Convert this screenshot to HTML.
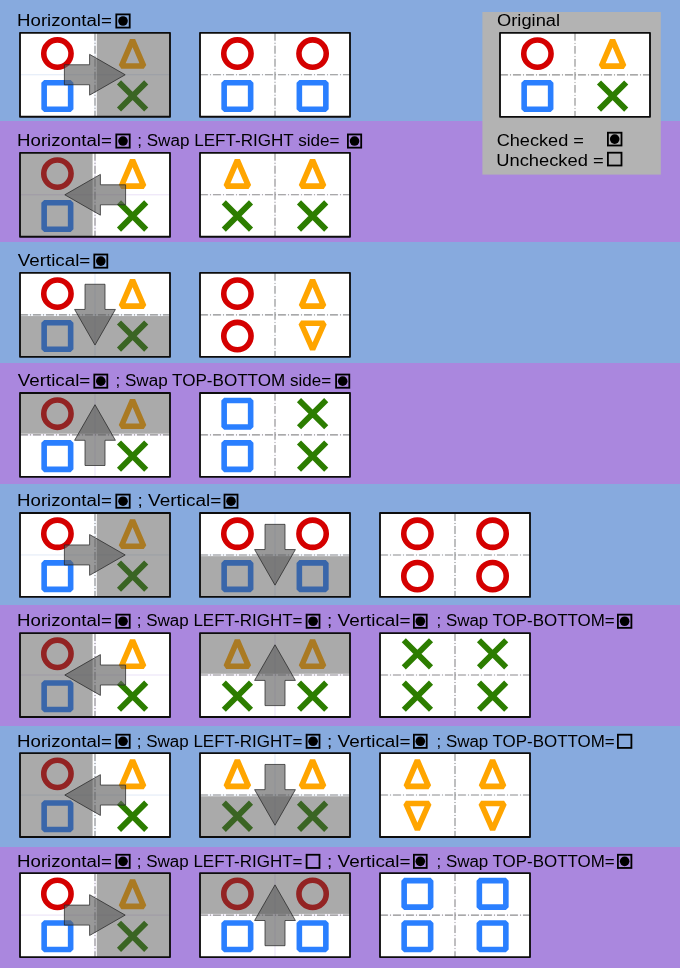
<!DOCTYPE html><html><head><meta charset="utf-8"><style>html,body{margin:0;padding:0;width:680px;height:968px;overflow:hidden;background:#87aade}svg{display:block;will-change:transform}</style></head><body><svg width="680" height="968" viewBox="0 0 680 968" font-family="&quot;Liberation Sans&quot;, sans-serif" font-size="15.8" fill="#000">
<rect x="0" y="0" width="680" height="121" fill="#87aade"/>
<rect x="0" y="121" width="680" height="121" fill="#aa87de"/>
<rect x="0" y="242" width="680" height="121" fill="#87aade"/>
<rect x="0" y="363" width="680" height="121" fill="#aa87de"/>
<rect x="0" y="484" width="680" height="121" fill="#87aade"/>
<rect x="0" y="605" width="680" height="121" fill="#aa87de"/>
<rect x="0" y="726" width="680" height="121" fill="#87aade"/>
<rect x="0" y="847" width="680" height="121" fill="#aa87de"/>
<rect x="20" y="32.8" width="150" height="83.9" fill="#fff"/>
<path d="M20,74.75H170M95.00,32.8V116.7" stroke="#87aade" stroke-opacity="0.25" stroke-width="1"/>
<circle cx="57.40" cy="53.55" r="13.65" fill="none" stroke="#d40000" stroke-width="5.6"/>
<polygon points="132.55,40.05 121.35,66.05 143.75,66.05" fill="none" stroke="#ffa500" stroke-width="5.6" stroke-linejoin="bevel"/>
<rect x="44.15" y="82.70" width="26.50" height="26.50" fill="none" stroke="#2a7fff" stroke-width="5.6" stroke-linejoin="bevel"/>
<path d="M119.00,82.35L146.20,109.55M119.00,109.55L146.20,82.35" stroke="#2c7d00" stroke-width="5.8" fill="none"/>
<path d="M95.00,32.8V116.7" stroke="#8f8f8f" stroke-width="1.1" stroke-dasharray="7.9 2.1 0.9 2.1"/>
<rect x="96.80" y="32.8" width="73.20" height="83.9" fill="#4b4b4b" fill-opacity="0.47"/>
<polygon points="64.40,64.75 89.60,64.75 89.60,54.35 125.20,74.75 89.60,95.15 89.60,84.75 64.40,84.75" fill="#5e5e5e" fill-opacity="0.63" stroke="#222" stroke-opacity="0.8" stroke-width="0.9"/>
<rect x="20" y="32.8" width="150" height="83.9" fill="none" stroke="#0d0d0d" stroke-width="1.85" stroke-linejoin="round"/>
<rect x="200" y="32.8" width="150" height="83.9" fill="#fff"/>
<path d="M200,74.75H350M275.00,32.8V116.7" stroke="#87aade" stroke-opacity="0.1" stroke-width="1"/>
<circle cx="237.40" cy="53.55" r="13.65" fill="none" stroke="#d40000" stroke-width="5.6"/>
<circle cx="312.60" cy="53.55" r="13.65" fill="none" stroke="#d40000" stroke-width="5.6"/>
<rect x="224.15" y="82.70" width="26.50" height="26.50" fill="none" stroke="#2a7fff" stroke-width="5.6" stroke-linejoin="bevel"/>
<rect x="299.35" y="82.70" width="26.50" height="26.50" fill="none" stroke="#2a7fff" stroke-width="5.6" stroke-linejoin="bevel"/>
<path d="M200,74.75H350" stroke="#8f8f8f" stroke-width="1.1" stroke-dasharray="7.9 2.1 0.9 2.1"/>
<path d="M275.00,32.8V116.7" stroke="#8f8f8f" stroke-width="1.1" stroke-dasharray="7.9 2.1 0.9 2.1"/>
<rect x="200" y="32.8" width="150" height="83.9" fill="none" stroke="#0d0d0d" stroke-width="1.85" stroke-linejoin="round"/>
<rect x="20" y="152.85" width="150" height="83.9" fill="#fff"/>
<path d="M20,194.80H170M95.00,152.85V236.75" stroke="#aa87de" stroke-opacity="0.25" stroke-width="1"/>
<circle cx="57.40" cy="173.60" r="13.65" fill="none" stroke="#d40000" stroke-width="5.6"/>
<polygon points="132.55,160.10 121.35,186.10 143.75,186.10" fill="none" stroke="#ffa500" stroke-width="5.6" stroke-linejoin="bevel"/>
<rect x="44.15" y="202.75" width="26.50" height="26.50" fill="none" stroke="#2a7fff" stroke-width="5.6" stroke-linejoin="bevel"/>
<path d="M119.00,202.40L146.20,229.60M119.00,229.60L146.20,202.40" stroke="#2c7d00" stroke-width="5.8" fill="none"/>
<path d="M95.00,152.85V236.75" stroke="#8f8f8f" stroke-width="1.1" stroke-dasharray="7.9 2.1 0.9 2.1"/>
<rect x="20" y="152.85" width="72.60" height="83.9" fill="#4b4b4b" fill-opacity="0.47"/>
<polygon points="125.60,184.80 100.40,184.80 100.40,174.40 64.80,194.80 100.40,215.20 100.40,204.80 125.60,204.80" fill="#5e5e5e" fill-opacity="0.63" stroke="#222" stroke-opacity="0.8" stroke-width="0.9"/>
<rect x="20" y="152.85" width="150" height="83.9" fill="none" stroke="#0d0d0d" stroke-width="1.85" stroke-linejoin="round"/>
<rect x="200" y="152.85" width="150" height="83.9" fill="#fff"/>
<path d="M200,194.80H350M275.00,152.85V236.75" stroke="#aa87de" stroke-opacity="0.1" stroke-width="1"/>
<polygon points="237.35,160.10 226.15,186.10 248.55,186.10" fill="none" stroke="#ffa500" stroke-width="5.6" stroke-linejoin="bevel"/>
<polygon points="312.55,160.10 301.35,186.10 323.75,186.10" fill="none" stroke="#ffa500" stroke-width="5.6" stroke-linejoin="bevel"/>
<path d="M223.80,202.40L251.00,229.60M223.80,229.60L251.00,202.40" stroke="#2c7d00" stroke-width="5.8" fill="none"/>
<path d="M299.00,202.40L326.20,229.60M299.00,229.60L326.20,202.40" stroke="#2c7d00" stroke-width="5.8" fill="none"/>
<path d="M200,194.80H350" stroke="#8f8f8f" stroke-width="1.1" stroke-dasharray="7.9 2.1 0.9 2.1"/>
<path d="M275.00,152.85V236.75" stroke="#8f8f8f" stroke-width="1.1" stroke-dasharray="7.9 2.1 0.9 2.1"/>
<rect x="200" y="152.85" width="150" height="83.9" fill="none" stroke="#0d0d0d" stroke-width="1.85" stroke-linejoin="round"/>
<rect x="20" y="272.9" width="150" height="83.9" fill="#fff"/>
<path d="M20,314.85H170M95.00,272.9V356.79999999999995" stroke="#87aade" stroke-opacity="0.25" stroke-width="1"/>
<circle cx="57.40" cy="293.65" r="13.65" fill="none" stroke="#d40000" stroke-width="5.6"/>
<polygon points="132.55,280.15 121.35,306.15 143.75,306.15" fill="none" stroke="#ffa500" stroke-width="5.6" stroke-linejoin="bevel"/>
<rect x="44.15" y="322.80" width="26.50" height="26.50" fill="none" stroke="#2a7fff" stroke-width="5.6" stroke-linejoin="bevel"/>
<path d="M119.00,322.45L146.20,349.65M119.00,349.65L146.20,322.45" stroke="#2c7d00" stroke-width="5.8" fill="none"/>
<path d="M20,314.85H170" stroke="#8f8f8f" stroke-width="1.1" stroke-dasharray="7.9 2.1 0.9 2.1"/>
<rect x="20" y="316.05" width="150" height="40.75" fill="#4b4b4b" fill-opacity="0.47"/>
<polygon points="85.00,284.25 85.00,309.45 74.60,309.45 95.00,345.05 115.40,309.45 105.00,309.45 105.00,284.25" fill="#5e5e5e" fill-opacity="0.63" stroke="#222" stroke-opacity="0.8" stroke-width="0.9"/>
<rect x="20" y="272.9" width="150" height="83.9" fill="none" stroke="#0d0d0d" stroke-width="1.85" stroke-linejoin="round"/>
<rect x="200" y="272.9" width="150" height="83.9" fill="#fff"/>
<path d="M200,314.85H350M275.00,272.9V356.79999999999995" stroke="#87aade" stroke-opacity="0.1" stroke-width="1"/>
<circle cx="237.40" cy="293.65" r="13.65" fill="none" stroke="#d40000" stroke-width="5.6"/>
<polygon points="312.55,280.15 301.35,306.15 323.75,306.15" fill="none" stroke="#ffa500" stroke-width="5.6" stroke-linejoin="bevel"/>
<circle cx="237.40" cy="336.05" r="13.65" fill="none" stroke="#d40000" stroke-width="5.6"/>
<polygon points="312.60,349.35 301.10,323.30 324.10,323.30" fill="none" stroke="#ffa500" stroke-width="5.6" stroke-linejoin="bevel"/>
<path d="M200,314.85H350" stroke="#8f8f8f" stroke-width="1.1" stroke-dasharray="7.9 2.1 0.9 2.1"/>
<path d="M275.00,272.9V356.79999999999995" stroke="#8f8f8f" stroke-width="1.1" stroke-dasharray="7.9 2.1 0.9 2.1"/>
<rect x="200" y="272.9" width="150" height="83.9" fill="none" stroke="#0d0d0d" stroke-width="1.85" stroke-linejoin="round"/>
<rect x="20" y="392.95" width="150" height="83.9" fill="#fff"/>
<path d="M20,434.90H170M95.00,392.95V476.85" stroke="#aa87de" stroke-opacity="0.25" stroke-width="1"/>
<circle cx="57.40" cy="413.70" r="13.65" fill="none" stroke="#d40000" stroke-width="5.6"/>
<polygon points="132.55,400.20 121.35,426.20 143.75,426.20" fill="none" stroke="#ffa500" stroke-width="5.6" stroke-linejoin="bevel"/>
<rect x="44.15" y="442.85" width="26.50" height="26.50" fill="none" stroke="#2a7fff" stroke-width="5.6" stroke-linejoin="bevel"/>
<path d="M119.00,442.50L146.20,469.70M119.00,469.70L146.20,442.50" stroke="#2c7d00" stroke-width="5.8" fill="none"/>
<path d="M20,434.90H170" stroke="#8f8f8f" stroke-width="1.1" stroke-dasharray="7.9 2.1 0.9 2.1"/>
<rect x="20" y="392.95" width="150" height="40.75" fill="#4b4b4b" fill-opacity="0.47"/>
<polygon points="85.00,465.50 85.00,440.30 74.60,440.30 95.00,404.70 115.40,440.30 105.00,440.30 105.00,465.50" fill="#5e5e5e" fill-opacity="0.63" stroke="#222" stroke-opacity="0.8" stroke-width="0.9"/>
<rect x="20" y="392.95" width="150" height="83.9" fill="none" stroke="#0d0d0d" stroke-width="1.85" stroke-linejoin="round"/>
<rect x="200" y="392.95" width="150" height="83.9" fill="#fff"/>
<path d="M200,434.90H350M275.00,392.95V476.85" stroke="#aa87de" stroke-opacity="0.1" stroke-width="1"/>
<rect x="224.15" y="400.45" width="26.50" height="26.50" fill="none" stroke="#2a7fff" stroke-width="5.6" stroke-linejoin="bevel"/>
<path d="M299.00,400.10L326.20,427.30M299.00,427.30L326.20,400.10" stroke="#2c7d00" stroke-width="5.8" fill="none"/>
<rect x="224.15" y="442.85" width="26.50" height="26.50" fill="none" stroke="#2a7fff" stroke-width="5.6" stroke-linejoin="bevel"/>
<path d="M299.00,442.50L326.20,469.70M299.00,469.70L326.20,442.50" stroke="#2c7d00" stroke-width="5.8" fill="none"/>
<path d="M200,434.90H350" stroke="#8f8f8f" stroke-width="1.1" stroke-dasharray="7.9 2.1 0.9 2.1"/>
<path d="M275.00,392.95V476.85" stroke="#8f8f8f" stroke-width="1.1" stroke-dasharray="7.9 2.1 0.9 2.1"/>
<rect x="200" y="392.95" width="150" height="83.9" fill="none" stroke="#0d0d0d" stroke-width="1.85" stroke-linejoin="round"/>
<rect x="20" y="513.0" width="150" height="83.9" fill="#fff"/>
<path d="M20,554.95H170M95.00,513.0V596.9" stroke="#87aade" stroke-opacity="0.25" stroke-width="1"/>
<circle cx="57.40" cy="533.75" r="13.65" fill="none" stroke="#d40000" stroke-width="5.6"/>
<polygon points="132.55,520.25 121.35,546.25 143.75,546.25" fill="none" stroke="#ffa500" stroke-width="5.6" stroke-linejoin="bevel"/>
<rect x="44.15" y="562.90" width="26.50" height="26.50" fill="none" stroke="#2a7fff" stroke-width="5.6" stroke-linejoin="bevel"/>
<path d="M119.00,562.55L146.20,589.75M119.00,589.75L146.20,562.55" stroke="#2c7d00" stroke-width="5.8" fill="none"/>
<path d="M95.00,513.0V596.9" stroke="#8f8f8f" stroke-width="1.1" stroke-dasharray="7.9 2.1 0.9 2.1"/>
<rect x="96.80" y="513.0" width="73.20" height="83.9" fill="#4b4b4b" fill-opacity="0.47"/>
<polygon points="64.40,544.95 89.60,544.95 89.60,534.55 125.20,554.95 89.60,575.35 89.60,564.95 64.40,564.95" fill="#5e5e5e" fill-opacity="0.63" stroke="#222" stroke-opacity="0.8" stroke-width="0.9"/>
<rect x="20" y="513.0" width="150" height="83.9" fill="none" stroke="#0d0d0d" stroke-width="1.85" stroke-linejoin="round"/>
<rect x="200" y="513.0" width="150" height="83.9" fill="#fff"/>
<path d="M200,554.95H350M275.00,513.0V596.9" stroke="#87aade" stroke-opacity="0.25" stroke-width="1"/>
<circle cx="237.40" cy="533.75" r="13.65" fill="none" stroke="#d40000" stroke-width="5.6"/>
<circle cx="312.60" cy="533.75" r="13.65" fill="none" stroke="#d40000" stroke-width="5.6"/>
<rect x="224.15" y="562.90" width="26.50" height="26.50" fill="none" stroke="#2a7fff" stroke-width="5.6" stroke-linejoin="bevel"/>
<rect x="299.35" y="562.90" width="26.50" height="26.50" fill="none" stroke="#2a7fff" stroke-width="5.6" stroke-linejoin="bevel"/>
<path d="M200,554.95H350" stroke="#8f8f8f" stroke-width="1.1" stroke-dasharray="7.9 2.1 0.9 2.1"/>
<rect x="200" y="556.15" width="150" height="40.75" fill="#4b4b4b" fill-opacity="0.47"/>
<polygon points="265.00,524.35 265.00,549.55 254.60,549.55 275.00,585.15 295.40,549.55 285.00,549.55 285.00,524.35" fill="#5e5e5e" fill-opacity="0.63" stroke="#222" stroke-opacity="0.8" stroke-width="0.9"/>
<rect x="200" y="513.0" width="150" height="83.9" fill="none" stroke="#0d0d0d" stroke-width="1.85" stroke-linejoin="round"/>
<rect x="380" y="513.0" width="150" height="83.9" fill="#fff"/>
<path d="M380,554.95H530M455.00,513.0V596.9" stroke="#87aade" stroke-opacity="0.1" stroke-width="1"/>
<circle cx="417.40" cy="533.75" r="13.65" fill="none" stroke="#d40000" stroke-width="5.6"/>
<circle cx="492.60" cy="533.75" r="13.65" fill="none" stroke="#d40000" stroke-width="5.6"/>
<circle cx="417.40" cy="576.15" r="13.65" fill="none" stroke="#d40000" stroke-width="5.6"/>
<circle cx="492.60" cy="576.15" r="13.65" fill="none" stroke="#d40000" stroke-width="5.6"/>
<path d="M380,554.95H530" stroke="#8f8f8f" stroke-width="1.1" stroke-dasharray="7.9 2.1 0.9 2.1"/>
<path d="M455.00,513.0V596.9" stroke="#8f8f8f" stroke-width="1.1" stroke-dasharray="7.9 2.1 0.9 2.1"/>
<rect x="380" y="513.0" width="150" height="83.9" fill="none" stroke="#0d0d0d" stroke-width="1.85" stroke-linejoin="round"/>
<rect x="20" y="633.05" width="150" height="83.9" fill="#fff"/>
<path d="M20,675.00H170M95.00,633.05V716.9499999999999" stroke="#aa87de" stroke-opacity="0.25" stroke-width="1"/>
<circle cx="57.40" cy="653.80" r="13.65" fill="none" stroke="#d40000" stroke-width="5.6"/>
<polygon points="132.55,640.30 121.35,666.30 143.75,666.30" fill="none" stroke="#ffa500" stroke-width="5.6" stroke-linejoin="bevel"/>
<rect x="44.15" y="682.95" width="26.50" height="26.50" fill="none" stroke="#2a7fff" stroke-width="5.6" stroke-linejoin="bevel"/>
<path d="M119.00,682.60L146.20,709.80M119.00,709.80L146.20,682.60" stroke="#2c7d00" stroke-width="5.8" fill="none"/>
<path d="M95.00,633.05V716.9499999999999" stroke="#8f8f8f" stroke-width="1.1" stroke-dasharray="7.9 2.1 0.9 2.1"/>
<rect x="20" y="633.05" width="72.60" height="83.9" fill="#4b4b4b" fill-opacity="0.47"/>
<polygon points="125.60,665.00 100.40,665.00 100.40,654.60 64.80,675.00 100.40,695.40 100.40,685.00 125.60,685.00" fill="#5e5e5e" fill-opacity="0.63" stroke="#222" stroke-opacity="0.8" stroke-width="0.9"/>
<rect x="20" y="633.05" width="150" height="83.9" fill="none" stroke="#0d0d0d" stroke-width="1.85" stroke-linejoin="round"/>
<rect x="200" y="633.05" width="150" height="83.9" fill="#fff"/>
<path d="M200,675.00H350M275.00,633.05V716.9499999999999" stroke="#aa87de" stroke-opacity="0.25" stroke-width="1"/>
<polygon points="237.35,640.30 226.15,666.30 248.55,666.30" fill="none" stroke="#ffa500" stroke-width="5.6" stroke-linejoin="bevel"/>
<polygon points="312.55,640.30 301.35,666.30 323.75,666.30" fill="none" stroke="#ffa500" stroke-width="5.6" stroke-linejoin="bevel"/>
<path d="M223.80,682.60L251.00,709.80M223.80,709.80L251.00,682.60" stroke="#2c7d00" stroke-width="5.8" fill="none"/>
<path d="M299.00,682.60L326.20,709.80M299.00,709.80L326.20,682.60" stroke="#2c7d00" stroke-width="5.8" fill="none"/>
<path d="M200,675.00H350" stroke="#8f8f8f" stroke-width="1.1" stroke-dasharray="7.9 2.1 0.9 2.1"/>
<rect x="200" y="633.05" width="150" height="40.75" fill="#4b4b4b" fill-opacity="0.47"/>
<polygon points="265.00,705.60 265.00,680.40 254.60,680.40 275.00,644.80 295.40,680.40 285.00,680.40 285.00,705.60" fill="#5e5e5e" fill-opacity="0.63" stroke="#222" stroke-opacity="0.8" stroke-width="0.9"/>
<rect x="200" y="633.05" width="150" height="83.9" fill="none" stroke="#0d0d0d" stroke-width="1.85" stroke-linejoin="round"/>
<rect x="380" y="633.05" width="150" height="83.9" fill="#fff"/>
<path d="M380,675.00H530M455.00,633.05V716.9499999999999" stroke="#aa87de" stroke-opacity="0.1" stroke-width="1"/>
<path d="M403.80,640.20L431.00,667.40M403.80,667.40L431.00,640.20" stroke="#2c7d00" stroke-width="5.8" fill="none"/>
<path d="M479.00,640.20L506.20,667.40M479.00,667.40L506.20,640.20" stroke="#2c7d00" stroke-width="5.8" fill="none"/>
<path d="M403.80,682.60L431.00,709.80M403.80,709.80L431.00,682.60" stroke="#2c7d00" stroke-width="5.8" fill="none"/>
<path d="M479.00,682.60L506.20,709.80M479.00,709.80L506.20,682.60" stroke="#2c7d00" stroke-width="5.8" fill="none"/>
<path d="M380,675.00H530" stroke="#8f8f8f" stroke-width="1.1" stroke-dasharray="7.9 2.1 0.9 2.1"/>
<path d="M455.00,633.05V716.9499999999999" stroke="#8f8f8f" stroke-width="1.1" stroke-dasharray="7.9 2.1 0.9 2.1"/>
<rect x="380" y="633.05" width="150" height="83.9" fill="none" stroke="#0d0d0d" stroke-width="1.85" stroke-linejoin="round"/>
<rect x="20" y="753.0999999999999" width="150" height="83.9" fill="#fff"/>
<path d="M20,795.05H170M95.00,753.0999999999999V836.9999999999999" stroke="#87aade" stroke-opacity="0.25" stroke-width="1"/>
<circle cx="57.40" cy="773.85" r="13.65" fill="none" stroke="#d40000" stroke-width="5.6"/>
<polygon points="132.55,760.35 121.35,786.35 143.75,786.35" fill="none" stroke="#ffa500" stroke-width="5.6" stroke-linejoin="bevel"/>
<rect x="44.15" y="803.00" width="26.50" height="26.50" fill="none" stroke="#2a7fff" stroke-width="5.6" stroke-linejoin="bevel"/>
<path d="M119.00,802.65L146.20,829.85M119.00,829.85L146.20,802.65" stroke="#2c7d00" stroke-width="5.8" fill="none"/>
<path d="M95.00,753.0999999999999V836.9999999999999" stroke="#8f8f8f" stroke-width="1.1" stroke-dasharray="7.9 2.1 0.9 2.1"/>
<rect x="20" y="753.0999999999999" width="72.60" height="83.9" fill="#4b4b4b" fill-opacity="0.47"/>
<polygon points="125.60,785.05 100.40,785.05 100.40,774.65 64.80,795.05 100.40,815.45 100.40,805.05 125.60,805.05" fill="#5e5e5e" fill-opacity="0.63" stroke="#222" stroke-opacity="0.8" stroke-width="0.9"/>
<rect x="20" y="753.0999999999999" width="150" height="83.9" fill="none" stroke="#0d0d0d" stroke-width="1.85" stroke-linejoin="round"/>
<rect x="200" y="753.0999999999999" width="150" height="83.9" fill="#fff"/>
<path d="M200,795.05H350M275.00,753.0999999999999V836.9999999999999" stroke="#87aade" stroke-opacity="0.25" stroke-width="1"/>
<polygon points="237.35,760.35 226.15,786.35 248.55,786.35" fill="none" stroke="#ffa500" stroke-width="5.6" stroke-linejoin="bevel"/>
<polygon points="312.55,760.35 301.35,786.35 323.75,786.35" fill="none" stroke="#ffa500" stroke-width="5.6" stroke-linejoin="bevel"/>
<path d="M223.80,802.65L251.00,829.85M223.80,829.85L251.00,802.65" stroke="#2c7d00" stroke-width="5.8" fill="none"/>
<path d="M299.00,802.65L326.20,829.85M299.00,829.85L326.20,802.65" stroke="#2c7d00" stroke-width="5.8" fill="none"/>
<path d="M200,795.05H350" stroke="#8f8f8f" stroke-width="1.1" stroke-dasharray="7.9 2.1 0.9 2.1"/>
<rect x="200" y="796.25" width="150" height="40.75" fill="#4b4b4b" fill-opacity="0.47"/>
<polygon points="265.00,764.45 265.00,789.65 254.60,789.65 275.00,825.25 295.40,789.65 285.00,789.65 285.00,764.45" fill="#5e5e5e" fill-opacity="0.63" stroke="#222" stroke-opacity="0.8" stroke-width="0.9"/>
<rect x="200" y="753.0999999999999" width="150" height="83.9" fill="none" stroke="#0d0d0d" stroke-width="1.85" stroke-linejoin="round"/>
<rect x="380" y="753.0999999999999" width="150" height="83.9" fill="#fff"/>
<path d="M380,795.05H530M455.00,753.0999999999999V836.9999999999999" stroke="#87aade" stroke-opacity="0.1" stroke-width="1"/>
<polygon points="417.35,760.35 406.15,786.35 428.55,786.35" fill="none" stroke="#ffa500" stroke-width="5.6" stroke-linejoin="bevel"/>
<polygon points="492.55,760.35 481.35,786.35 503.75,786.35" fill="none" stroke="#ffa500" stroke-width="5.6" stroke-linejoin="bevel"/>
<polygon points="417.40,829.55 405.90,803.50 428.90,803.50" fill="none" stroke="#ffa500" stroke-width="5.6" stroke-linejoin="bevel"/>
<polygon points="492.60,829.55 481.10,803.50 504.10,803.50" fill="none" stroke="#ffa500" stroke-width="5.6" stroke-linejoin="bevel"/>
<path d="M380,795.05H530" stroke="#8f8f8f" stroke-width="1.1" stroke-dasharray="7.9 2.1 0.9 2.1"/>
<path d="M455.00,753.0999999999999V836.9999999999999" stroke="#8f8f8f" stroke-width="1.1" stroke-dasharray="7.9 2.1 0.9 2.1"/>
<rect x="380" y="753.0999999999999" width="150" height="83.9" fill="none" stroke="#0d0d0d" stroke-width="1.85" stroke-linejoin="round"/>
<rect x="20" y="873.15" width="150" height="83.9" fill="#fff"/>
<path d="M20,915.10H170M95.00,873.15V957.05" stroke="#aa87de" stroke-opacity="0.25" stroke-width="1"/>
<circle cx="57.40" cy="893.90" r="13.65" fill="none" stroke="#d40000" stroke-width="5.6"/>
<polygon points="132.55,880.40 121.35,906.40 143.75,906.40" fill="none" stroke="#ffa500" stroke-width="5.6" stroke-linejoin="bevel"/>
<rect x="44.15" y="923.05" width="26.50" height="26.50" fill="none" stroke="#2a7fff" stroke-width="5.6" stroke-linejoin="bevel"/>
<path d="M119.00,922.70L146.20,949.90M119.00,949.90L146.20,922.70" stroke="#2c7d00" stroke-width="5.8" fill="none"/>
<path d="M95.00,873.15V957.05" stroke="#8f8f8f" stroke-width="1.1" stroke-dasharray="7.9 2.1 0.9 2.1"/>
<rect x="96.80" y="873.15" width="73.20" height="83.9" fill="#4b4b4b" fill-opacity="0.47"/>
<polygon points="64.40,905.10 89.60,905.10 89.60,894.70 125.20,915.10 89.60,935.50 89.60,925.10 64.40,925.10" fill="#5e5e5e" fill-opacity="0.63" stroke="#222" stroke-opacity="0.8" stroke-width="0.9"/>
<rect x="20" y="873.15" width="150" height="83.9" fill="none" stroke="#0d0d0d" stroke-width="1.85" stroke-linejoin="round"/>
<rect x="200" y="873.15" width="150" height="83.9" fill="#fff"/>
<path d="M200,915.10H350M275.00,873.15V957.05" stroke="#aa87de" stroke-opacity="0.25" stroke-width="1"/>
<circle cx="237.40" cy="893.90" r="13.65" fill="none" stroke="#d40000" stroke-width="5.6"/>
<circle cx="312.60" cy="893.90" r="13.65" fill="none" stroke="#d40000" stroke-width="5.6"/>
<rect x="224.15" y="923.05" width="26.50" height="26.50" fill="none" stroke="#2a7fff" stroke-width="5.6" stroke-linejoin="bevel"/>
<rect x="299.35" y="923.05" width="26.50" height="26.50" fill="none" stroke="#2a7fff" stroke-width="5.6" stroke-linejoin="bevel"/>
<path d="M200,915.10H350" stroke="#8f8f8f" stroke-width="1.1" stroke-dasharray="7.9 2.1 0.9 2.1"/>
<rect x="200" y="873.15" width="150" height="40.75" fill="#4b4b4b" fill-opacity="0.47"/>
<polygon points="265.00,945.70 265.00,920.50 254.60,920.50 275.00,884.90 295.40,920.50 285.00,920.50 285.00,945.70" fill="#5e5e5e" fill-opacity="0.63" stroke="#222" stroke-opacity="0.8" stroke-width="0.9"/>
<rect x="200" y="873.15" width="150" height="83.9" fill="none" stroke="#0d0d0d" stroke-width="1.85" stroke-linejoin="round"/>
<rect x="380" y="873.15" width="150" height="83.9" fill="#fff"/>
<path d="M380,915.10H530M455.00,873.15V957.05" stroke="#aa87de" stroke-opacity="0.1" stroke-width="1"/>
<rect x="404.15" y="880.65" width="26.50" height="26.50" fill="none" stroke="#2a7fff" stroke-width="5.6" stroke-linejoin="bevel"/>
<rect x="479.35" y="880.65" width="26.50" height="26.50" fill="none" stroke="#2a7fff" stroke-width="5.6" stroke-linejoin="bevel"/>
<rect x="404.15" y="923.05" width="26.50" height="26.50" fill="none" stroke="#2a7fff" stroke-width="5.6" stroke-linejoin="bevel"/>
<rect x="479.35" y="923.05" width="26.50" height="26.50" fill="none" stroke="#2a7fff" stroke-width="5.6" stroke-linejoin="bevel"/>
<path d="M380,915.10H530" stroke="#8f8f8f" stroke-width="1.1" stroke-dasharray="7.9 2.1 0.9 2.1"/>
<path d="M455.00,873.15V957.05" stroke="#8f8f8f" stroke-width="1.1" stroke-dasharray="7.9 2.1 0.9 2.1"/>
<rect x="380" y="873.15" width="150" height="83.9" fill="none" stroke="#0d0d0d" stroke-width="1.85" stroke-linejoin="round"/>
<text x="17.07" y="26.20" textLength="94.83" lengthAdjust="spacingAndGlyphs">Horizontal=</text>
<rect x="116.30" y="14.40" width="13.40" height="13.20" fill="none" stroke="#000" stroke-width="1.8"/>
<circle cx="123.00" cy="21.00" r="4.8" fill="#000"/>
<text x="17.07" y="146.25" textLength="94.83" lengthAdjust="spacingAndGlyphs">Horizontal=</text>
<rect x="116.30" y="134.45" width="13.40" height="13.20" fill="none" stroke="#000" stroke-width="1.8"/>
<circle cx="123.00" cy="141.05" r="4.8" fill="#000"/>
<text x="137.18" y="146.25" textLength="202.36" lengthAdjust="spacingAndGlyphs">; Swap LEFT-RIGHT side=</text>
<rect x="347.90" y="134.45" width="13.30" height="13.20" fill="none" stroke="#000" stroke-width="1.8"/>
<circle cx="354.55" cy="141.05" r="4.8" fill="#000"/>
<text x="17.78" y="266.30" textLength="72.50" lengthAdjust="spacingAndGlyphs">Vertical=</text>
<rect x="94.30" y="254.50" width="13.00" height="13.20" fill="none" stroke="#000" stroke-width="1.8"/>
<circle cx="100.80" cy="261.10" r="4.8" fill="#000"/>
<text x="17.78" y="386.35" textLength="72.50" lengthAdjust="spacingAndGlyphs">Vertical=</text>
<rect x="94.30" y="374.55" width="13.00" height="13.20" fill="none" stroke="#000" stroke-width="1.8"/>
<circle cx="100.80" cy="381.15" r="4.8" fill="#000"/>
<text x="115.48" y="386.35" textLength="215.74" lengthAdjust="spacingAndGlyphs">; Swap TOP-BOTTOM side=</text>
<rect x="336.10" y="374.55" width="13.20" height="13.20" fill="none" stroke="#000" stroke-width="1.8"/>
<circle cx="342.70" cy="381.15" r="4.8" fill="#000"/>
<text x="17.07" y="506.40" textLength="94.83" lengthAdjust="spacingAndGlyphs">Horizontal=</text>
<rect x="116.30" y="494.60" width="13.40" height="13.20" fill="none" stroke="#000" stroke-width="1.8"/>
<circle cx="123.00" cy="501.20" r="4.8" fill="#000"/>
<text x="137.50" y="506.40" textLength="83.78" lengthAdjust="spacingAndGlyphs">; Vertical=</text>
<rect x="224.50" y="494.60" width="13.00" height="13.20" fill="none" stroke="#000" stroke-width="1.8"/>
<circle cx="231.00" cy="501.20" r="4.8" fill="#000"/>
<text x="17.07" y="626.45" textLength="94.83" lengthAdjust="spacingAndGlyphs">Horizontal=</text>
<rect x="116.30" y="614.65" width="13.40" height="13.20" fill="none" stroke="#000" stroke-width="1.8"/>
<circle cx="123.00" cy="621.25" r="4.8" fill="#000"/>
<text x="136.69" y="626.45" textLength="165.86" lengthAdjust="spacingAndGlyphs">; Swap LEFT-RIGHT=</text>
<rect x="306.60" y="614.65" width="12.90" height="13.20" fill="none" stroke="#000" stroke-width="1.8"/>
<circle cx="313.05" cy="621.25" r="4.8" fill="#000"/>
<text x="327.11" y="626.45" textLength="83.47" lengthAdjust="spacingAndGlyphs">; Vertical=</text>
<rect x="413.90" y="614.65" width="12.80" height="13.20" fill="none" stroke="#000" stroke-width="1.8"/>
<circle cx="420.30" cy="621.25" r="4.8" fill="#000"/>
<text x="436.49" y="626.45" textLength="178.15" lengthAdjust="spacingAndGlyphs">; Swap TOP-BOTTOM=</text>
<rect x="617.90" y="614.65" width="13.50" height="13.20" fill="none" stroke="#000" stroke-width="1.8"/>
<circle cx="624.65" cy="621.25" r="4.8" fill="#000"/>
<text x="17.07" y="746.50" textLength="94.83" lengthAdjust="spacingAndGlyphs">Horizontal=</text>
<rect x="116.30" y="734.70" width="13.40" height="13.20" fill="none" stroke="#000" stroke-width="1.8"/>
<circle cx="123.00" cy="741.30" r="4.8" fill="#000"/>
<text x="136.69" y="746.50" textLength="165.86" lengthAdjust="spacingAndGlyphs">; Swap LEFT-RIGHT=</text>
<rect x="306.60" y="734.70" width="12.90" height="13.20" fill="none" stroke="#000" stroke-width="1.8"/>
<circle cx="313.05" cy="741.30" r="4.8" fill="#000"/>
<text x="327.11" y="746.50" textLength="83.47" lengthAdjust="spacingAndGlyphs">; Vertical=</text>
<rect x="413.90" y="734.70" width="12.80" height="13.20" fill="none" stroke="#000" stroke-width="1.8"/>
<circle cx="420.30" cy="741.30" r="4.8" fill="#000"/>
<text x="436.49" y="746.50" textLength="178.15" lengthAdjust="spacingAndGlyphs">; Swap TOP-BOTTOM=</text>
<rect x="617.90" y="734.70" width="13.50" height="13.20" fill="none" stroke="#000" stroke-width="1.8"/>
<text x="17.07" y="866.55" textLength="94.83" lengthAdjust="spacingAndGlyphs">Horizontal=</text>
<rect x="116.30" y="854.75" width="13.40" height="13.20" fill="none" stroke="#000" stroke-width="1.8"/>
<circle cx="123.00" cy="861.35" r="4.8" fill="#000"/>
<text x="136.69" y="866.55" textLength="165.86" lengthAdjust="spacingAndGlyphs">; Swap LEFT-RIGHT=</text>
<rect x="306.60" y="854.75" width="12.90" height="13.20" fill="none" stroke="#000" stroke-width="1.8"/>
<text x="327.11" y="866.55" textLength="83.47" lengthAdjust="spacingAndGlyphs">; Vertical=</text>
<rect x="413.90" y="854.75" width="12.80" height="13.20" fill="none" stroke="#000" stroke-width="1.8"/>
<circle cx="420.30" cy="861.35" r="4.8" fill="#000"/>
<text x="436.49" y="866.55" textLength="178.15" lengthAdjust="spacingAndGlyphs">; Swap TOP-BOTTOM=</text>
<rect x="617.90" y="854.75" width="13.50" height="13.20" fill="none" stroke="#000" stroke-width="1.8"/>
<circle cx="624.65" cy="861.35" r="4.8" fill="#000"/>
<rect x="482.4" y="12" width="178.4" height="162.6" fill="#b3b3b3"/>
<text x="497.08" y="26.20" textLength="62.93" lengthAdjust="spacingAndGlyphs">Original</text>
<rect x="500" y="32.9" width="150" height="83.9" fill="#fff"/>
<path d="M500,74.85H650M575.00,32.9V116.80000000000001" stroke="#b3b3b3" stroke-opacity="0.1" stroke-width="1"/>
<circle cx="537.40" cy="53.65" r="13.65" fill="none" stroke="#d40000" stroke-width="5.6"/>
<polygon points="612.55,40.15 601.35,66.15 623.75,66.15" fill="none" stroke="#ffa500" stroke-width="5.6" stroke-linejoin="bevel"/>
<rect x="524.15" y="82.80" width="26.50" height="26.50" fill="none" stroke="#2a7fff" stroke-width="5.6" stroke-linejoin="bevel"/>
<path d="M599.00,82.45L626.20,109.65M599.00,109.65L626.20,82.45" stroke="#2c7d00" stroke-width="5.8" fill="none"/>
<path d="M500,74.85H650" stroke="#8f8f8f" stroke-width="1.1" stroke-dasharray="7.9 2.1 0.9 2.1"/>
<path d="M575.00,32.9V116.80000000000001" stroke="#8f8f8f" stroke-width="1.1" stroke-dasharray="7.9 2.1 0.9 2.1"/>
<rect x="500" y="32.9" width="150" height="83.9" fill="none" stroke="#0d0d0d" stroke-width="1.85" stroke-linejoin="round"/>
<text x="496.68" y="145.90" textLength="87.21" lengthAdjust="spacingAndGlyphs">Checked =</text>
<text x="496.21" y="165.90" textLength="107.48" lengthAdjust="spacingAndGlyphs">Unchecked =</text>
<rect x="607.90" y="132.70" width="13.60" height="12.80" fill="none" stroke="#000" stroke-width="1.8"/>
<circle cx="614.70" cy="139.10" r="4.8" fill="#000"/>
<rect x="607.90" y="152.70" width="13.60" height="12.80" fill="none" stroke="#000" stroke-width="1.8"/>
</svg></body></html>
